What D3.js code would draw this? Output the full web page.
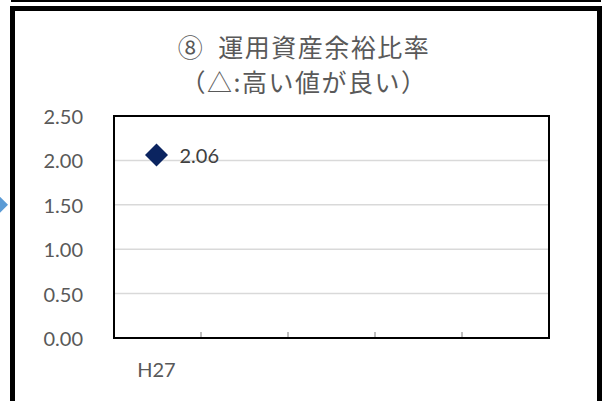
<!DOCTYPE html>
<html>
<head>
<meta charset="utf-8">
<script src="https://cdn.jsdelivr.net/npm/d3@7"></script>
<style>
  html, body { margin: 0; padding: 0; background: #fff; overflow: hidden; }
  svg { display: block; }
  text { white-space: pre; }
</style>
</head>
<body>
<svg id="chart" width="602" height="401"></svg>
<script>
// ---- data ----
const categories = ["H27", "", "", "", ""];
const values = [2.06];
const yTicks = [0, 0.5, 1.0, 1.5, 2.0, 2.5];
const titleLines = ["⑧  運用資産余裕比率", "（△:高い値が良い）"];
const neighborValues = [1.5]; // clipped marker from an adjacent chart

// ---- layout ----
const W = 602, H = 401;
const plot = { left: 114, right: 549, top: 116, bottom: 338 };
const numFont = "Lato, 'Noto Sans', 'Liberation Sans', sans-serif";

const svg = d3.select("#chart");

svg.append("rect").attr("width", W).attr("height", H).attr("fill", "#fff");

// line of the chart frame above
svg.append("line")
  .attr("x1", 11).attr("x2", 601).attr("y1", 1).attr("y2", 1)
  .attr("stroke", "#000").attr("stroke-width", 2);

// outer frame (bottom cut off)
svg.append("path")
  .attr("d", `M12.5,${H + 10} L12.5,8.5 L599.5,8.5 L599.5,${H + 10}`)
  .attr("fill", "none").attr("stroke", "#000").attr("stroke-width", 5)
  .attr("stroke-linejoin", "miter");

const x = d3.scaleBand().domain(d3.range(categories.length))
  .range([plot.left, plot.right]).paddingInner(0).paddingOuter(0);
const y = d3.scaleLinear().domain([0, 2.5]).range([plot.bottom, plot.top]);

// neighbour marker (clipped at left edge)
svg.append("g").selectAll("path").data(neighborValues).join("path")
  .attr("d", d3.symbol(d3.symbolSquare, 265)())
  .attr("transform", d => `translate(-3.5,${y(d)}) rotate(45)`)
  .attr("fill", "#5B9BD5");

// title
svg.append("g").selectAll("text").data(titleLines).join("text")
  .attr("x", 304)
  .attr("y", (d, i) => [46, 81][i])
  .attr("text-anchor", "middle")
  .attr("dominant-baseline", "central")
  .attr("font-family", "'Noto Sans CJK JP', sans-serif")
  .attr("font-size", 25)
  .attr("letter-spacing", 1.5)
  .attr("fill", "#595959")
  .text(d => d);

// gridlines
svg.append("g").selectAll("line").data(yTicks.filter(t => t > 0 && t < 2.5)).join("line")
  .attr("x1", plot.left).attr("x2", plot.right)
  .attr("y1", d => y(d)).attr("y2", d => y(d))
  .attr("stroke", "#D9D9D9").attr("stroke-width", 1.5);

// y tick labels
svg.append("g").selectAll("text").data(yTicks).join("text")
  .attr("x", 83)
  .attr("y", d => y(d))
  .attr("text-anchor", "end")
  .attr("dominant-baseline", "central")
  .attr("font-family", numFont)
  .attr("font-size", 20)
  .attr("fill", "#595959")
  .text(d => d.toFixed(2));

// x tick marks between categories (inside)
svg.append("g").selectAll("line").data(d3.range(1, categories.length)).join("line")
  .attr("x1", d => x(d)).attr("x2", d => x(d))
  .attr("y1", plot.bottom).attr("y2", plot.bottom - 6)
  .attr("stroke", "#7F7F7F").attr("stroke-width", 1);

// x category labels
svg.append("g").selectAll("text").data(categories).join("text")
  .attr("x", (d, i) => x(i) + x.bandwidth() / 2 - 1)
  .attr("y", 377)
  .attr("text-anchor", "middle")
  .attr("font-family", numFont)
  .attr("font-size", 20)
  .attr("fill", "#595959")
  .text(d => d);

// plot border
svg.append("rect")
  .attr("x", plot.left).attr("y", plot.top)
  .attr("width", plot.right - plot.left).attr("height", plot.bottom - plot.top)
  .attr("fill", "none").attr("stroke", "#000").attr("stroke-width", 2);

// markers
const pts = values.map((v, i) => ({ v, i }));
svg.append("g").selectAll("path").data(pts).join("path")
  .attr("d", d3.symbol(d3.symbolSquare, 265)())
  .attr("transform", d => `translate(${x(d.i) + x.bandwidth() / 2 - 1},${y(d.v)}) rotate(45)`)
  .attr("fill", "#0B2460");

// data labels
svg.append("g").selectAll("text").data(pts).join("text")
  .attr("x", d => x(d.i) + x.bandwidth() / 2 + 22)
  .attr("y", d => y(d.v))
  .attr("dominant-baseline", "central")
  .attr("font-family", numFont)
  .attr("font-size", 20)
  .attr("fill", "#404040")
  .text(d => d.v.toFixed(2));
</script>
</body>
</html>
